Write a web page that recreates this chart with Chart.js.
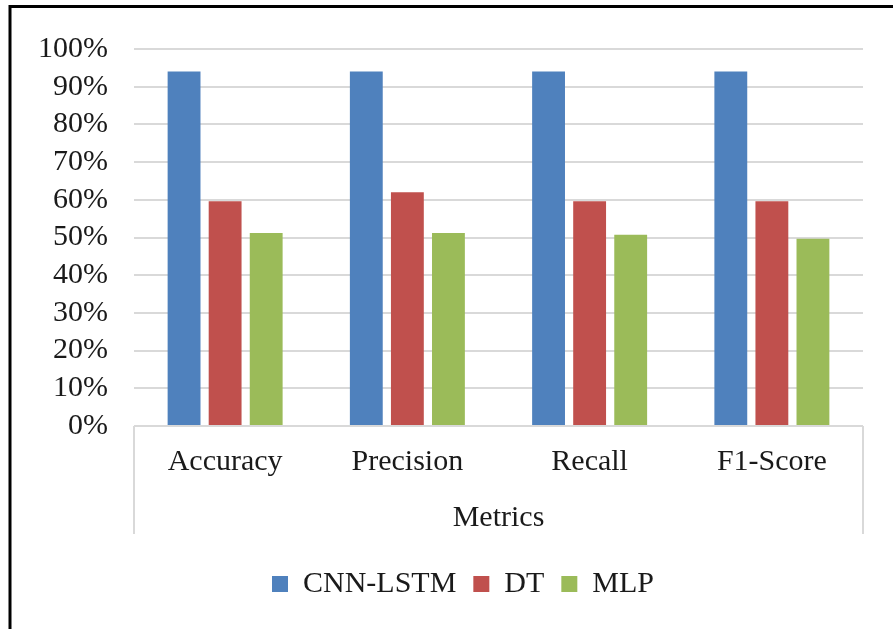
<!DOCTYPE html>
<html>
<head>
<meta charset="utf-8">
<script src="https://cdn.jsdelivr.net/npm/chart.js@4/dist/chart.umd.min.js"></script>
<style>
html,body{margin:0;padding:0;background:#fff;}
#wrap{position:absolute;left:0;top:0;width:893px;height:629px;}
</style>
</head>
<body>
<div id="wrap"><canvas id="c" width="893" height="629"></canvas></div>
<script>
const categories = ["Accuracy", "Precision", "Recall", "F1-Score"];
const cnnLstm = [94, 94, 94, 94];
const dt = [59.6, 62, 59.6, 59.6];
const mlp = [51.2, 51.2, 50.7, 49.7];
const yTicks = [0, 10, 20, 30, 40, 50, 60, 70, 80, 90, 100];
const xTitle = "Metrics";

const FONT = "'Liberation Serif', 'Times New Roman', serif";
const TEXT = "#1a1a1a";
const GRID = "#d9d9d9";
const FS = 30;
const TITLE_PAD_BOTTOM = 16;
const LEGEND_SHIFT = 51;

const decor = {
  id: 'decor',
  afterLayout(chart) {
    if (chart.legend) chart.legend.left += LEGEND_SHIFT;
  },
  beforeDraw(chart) {
    const ctx = chart.ctx;
    ctx.save();
    ctx.fillStyle = '#fff';
    ctx.fillRect(0, 0, chart.width, chart.height);
    ctx.restore();
  },
  afterDraw(chart) {
    const ctx = chart.ctx;
    const a = chart.chartArea;
    const xs = chart.scales.x;
    const end = xs.bottom - TITLE_PAD_BOTTOM - 2;
    ctx.save();
    ctx.strokeStyle = GRID;
    ctx.lineWidth = 2;
    ctx.beginPath();
    ctx.moveTo(a.left, a.bottom);
    ctx.lineTo(a.left, end);
    ctx.moveTo(a.right, a.bottom);
    ctx.lineTo(a.right, end);
    ctx.stroke();
    ctx.strokeStyle = '#000';
    ctx.lineWidth = 3;
    ctx.beginPath();
    ctx.moveTo(10, chart.height);
    ctx.lineTo(10, 6.5);
    ctx.lineTo(chart.width, 6.5);
    ctx.stroke();
    ctx.restore();
  }
};

new Chart(document.getElementById('c'), {
  type: 'bar',
  data: {
    labels: categories,
    datasets: [
      { label: 'CNN-LSTM', data: cnnLstm, backgroundColor: '#4F81BD' },
      { label: 'DT', data: dt, backgroundColor: '#C0504D' },
      { label: 'MLP', data: mlp, backgroundColor: '#9BBB59' }
    ]
  },
  options: {
    responsive: false,
    animation: false,
    devicePixelRatio: 1,
    layout: { padding: { left: 12, right: 30, top: 49, bottom: 20 } },
    datasets: { bar: { categoryPercentage: 0.676, barPercentage: 0.8 } },
    plugins: {
      legend: {
        position: 'bottom',
        labels: {
          boxWidth: 16, boxHeight: 16, padding: 17,
          color: TEXT,
          font: { family: FONT, size: FS }
        }
      },
      tooltip: { enabled: false }
    },
    scales: {
      x: {
        grid: { display: false, drawTicks: false },
        border: { display: false },
        ticks: { color: TEXT, font: { family: FONT, size: FS }, padding: 18 },
        title: {
          display: true, text: xTitle, color: TEXT,
          font: { family: FONT, size: FS },
          padding: { top: 2, bottom: TITLE_PAD_BOTTOM }
        }
      },
      y: {
        min: 0, max: 100,
        afterBuildTicks(scale) { scale.ticks = yTicks.map(v => ({ value: v })); },
        afterFit(scale) { scale.width = 122; },
        grid: { color: GRID, lineWidth: 2, drawTicks: false },
        border: { display: false },
        ticks: {
          autoSkip: false,
          color: TEXT, font: { family: FONT, size: FS }, padding: 26,
          callback: v => v + '%'
        }
      }
    }
  },
  plugins: [decor]
});
</script>
</body>
</html>
